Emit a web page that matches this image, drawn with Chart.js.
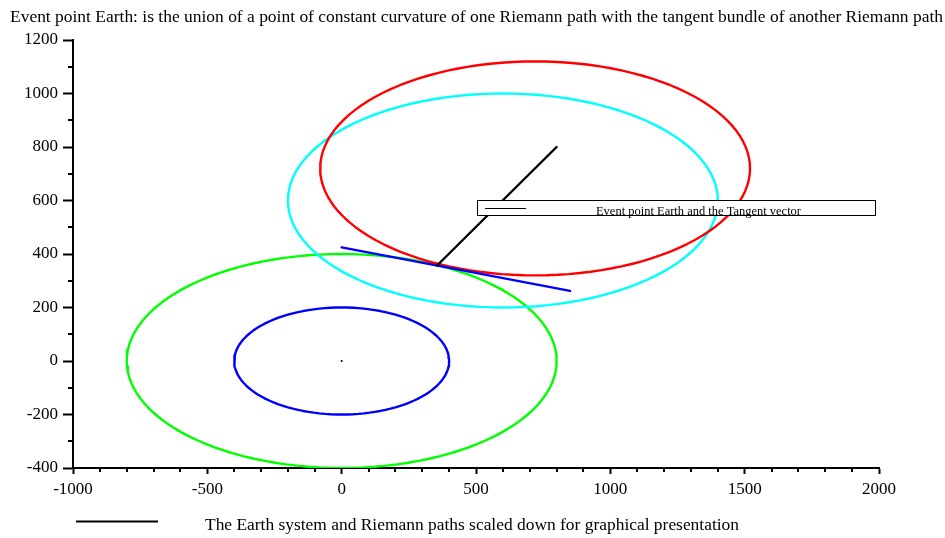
<!DOCTYPE html>
<html>
<head>
<meta charset="utf-8">
<script src="https://cdn.jsdelivr.net/npm/chart.js@4"></script>
<style>
  body { margin: 0; background: #fff; }
</style>
</head>
<body>
<canvas id="chart" width="945" height="538"></canvas>
<script>
// texts
const titleText = "Event point Earth: is the union of a point of constant curvature of one Riemann path with the tangent bundle of another Riemann path";
const boxLegendText = "Event point Earth and the Tangent vector";
const bottomLegendText = "The Earth system and Riemann paths scaled down for graphical presentation";

// ellipses (Riemann paths): green, blue, cyan, red
const ellipseNames = ["outer path", "inner path", "shifted path", "curvature path"];
const ellipseCx = [0, 0, 600, 720];
const ellipseCy = [0, 0, 600, 720];
const ellipseRx = [800, 400, 800, 800];
const ellipseRy = [400, 200, 400, 400];
const ellipseColors = ["#00ff00", "#0000ff", "#00ffff", "#ff0000"];

// tangent line and the vector from Earth
const tangentX = [0, 850];
const tangentY = [425, 262];
const vectorX = [355, 800];
const vectorY = [357, 800];
// Earth system, scaled down to a dot at the origin
const earthX = [0];
const earthY = [0];

const xTicksMajor = 500, yTicksMajor = 200;

function ellipsePoints(i) {
  const pts = [];
  const n = 120;
  for (let k = 0; k <= n; k++) {
    const t = Math.PI / 2 + k / n * 2 * Math.PI;
    pts.push({x: ellipseCx[i] + ellipseRx[i] * Math.cos(t), y: ellipseCy[i] + ellipseRy[i] * Math.sin(t)});
  }
  return pts;
}
const zip = (xs, ys) => xs.map((x, i) => ({x: x, y: ys[i]}));

const lineSet = (label, data, color) => ({
  label: label, data: data, borderColor: color, backgroundColor: color,
  showLine: true, borderWidth: 2.4, borderJoinStyle: "round", borderCapStyle: "round",
  pointRadius: 0, tension: 0, fill: false
});

// first dataset is drawn on top
const datasets = [
  lineSet("vector", zip(vectorX, vectorY), "#000000"),
  lineSet("tangent", zip(tangentX, tangentY), "#0000ff"),
  lineSet(ellipseNames[3], ellipsePoints(3), ellipseColors[3]),
  lineSet(ellipseNames[2], ellipsePoints(2), ellipseColors[2]),
  lineSet(ellipseNames[1], ellipsePoints(1), ellipseColors[1]),
  lineSet(ellipseNames[0], ellipsePoints(0), ellipseColors[0]),
  {label: "earth", data: zip(earthX, earthY), pointRadius: 1, pointBorderWidth: 0,
   backgroundColor: "#000", showLine: false}
];

const serif = "'Liberation Serif', 'DejaVu Serif', serif";

// text stretched to the width it has in the original picture
function fitText(ctx, text, x, y, width) {
  const w = ctx.measureText(text).width;
  ctx.save();
  ctx.translate(x, y);
  ctx.scale(width / w, 1);
  ctx.fillText(text, 0, 0);
  ctx.restore();
}

// title, legends and minor ticks
const extras = {
  id: "extras",
  afterDatasetsDraw(chart) {
    const ctx = chart.ctx;
    ctx.save();
    // legend box inside the plot
    ctx.fillStyle = "#fff";
    ctx.fillRect(477, 201, 398, 15);
    ctx.strokeStyle = "#000";
    ctx.lineWidth = 1;
    ctx.strokeRect(477.5, 200.5, 398, 15);
    ctx.lineWidth = 1.2;
    ctx.beginPath();
    ctx.moveTo(485, 208.5);
    ctx.lineTo(526, 208.5);
    ctx.stroke();
    ctx.fillStyle = "#000";
    ctx.font = "12px " + serif;
    ctx.textBaseline = "alphabetic";
    fitText(ctx, boxLegendText, 596, 215, 205);
    ctx.restore();
  },
  afterDraw(chart) {
    const ctx = chart.ctx;
    const xs = chart.scales.x, ys = chart.scales.y;
    ctx.save();
    ctx.strokeStyle = "#000";
    ctx.lineWidth = 2;
    ctx.beginPath();
    xs.ticks.forEach(t => {
      if (t.value % xTicksMajor !== 0) {
        const p = Math.round(xs.getPixelForValue(t.value));
        ctx.moveTo(p, ys.bottom);
        ctx.lineTo(p, ys.bottom + 4);
      }
    });
    ys.ticks.forEach(t => {
      if (t.value % yTicksMajor !== 0) {
        const p = Math.round(ys.getPixelForValue(t.value));
        ctx.moveTo(xs.left, p);
        ctx.lineTo(xs.left - 5, p);
      }
    });
    ctx.stroke();

    ctx.fillStyle = "#000";
    ctx.font = "16px " + serif;
    ctx.textBaseline = "alphabetic";
    fitText(ctx, titleText, 10, 22, 933);

    ctx.lineWidth = 2;
    ctx.beginPath();
    ctx.moveTo(76, 521.5);
    ctx.lineTo(158, 521.5);
    ctx.stroke();
    fitText(ctx, bottomLegendText, 205, 530, 534);
    ctx.restore();
  }
};

new Chart(document.getElementById("chart"), {
  type: "scatter",
  data: {datasets: datasets},
  options: {
    responsive: false,
    animation: false,
    layout: {padding: {top: 40, right: 66, left: 0, bottom: 40}},
    plugins: {legend: {display: false}, title: {display: false}, tooltip: {enabled: false}},
    scales: {
      x: {
        type: "linear", min: -1000, max: 2000,
        afterFit: s => { s.height = 30; },
        border: {display: true, color: "#000", width: 2},
        grid: {drawOnChartArea: false, drawTicks: true, tickLength: 6, tickWidth: 2,
               tickColor: c => (c.tick && c.tick.value % xTicksMajor === 0) ? "#000" : "rgba(0,0,0,0)"},
        ticks: {stepSize: 100, autoSkip: false, maxRotation: 0, padding: 5, color: "#000",
                font: {family: serif, size: 17},
                callback: v => v % xTicksMajor === 0 ? String(v) : ""}
      },
      y: {
        type: "linear", min: -400, max: 1200,
        afterFit: s => { s.width = 73; },
        border: {display: true, color: "#000", width: 2},
        grid: {drawOnChartArea: false, drawTicks: true, tickLength: 10, tickWidth: 2,
               tickColor: c => (c.tick && c.tick.value % yTicksMajor === 0) ? "#000" : "rgba(0,0,0,0)"},
        ticks: {stepSize: 100, autoSkip: false, padding: 5, color: "#000",
                font: {family: serif, size: 17},
                callback: v => v % yTicksMajor === 0 ? String(v) : ""}
      }
    }
  },
  plugins: [extras]
});
</script>
</body>
</html>
